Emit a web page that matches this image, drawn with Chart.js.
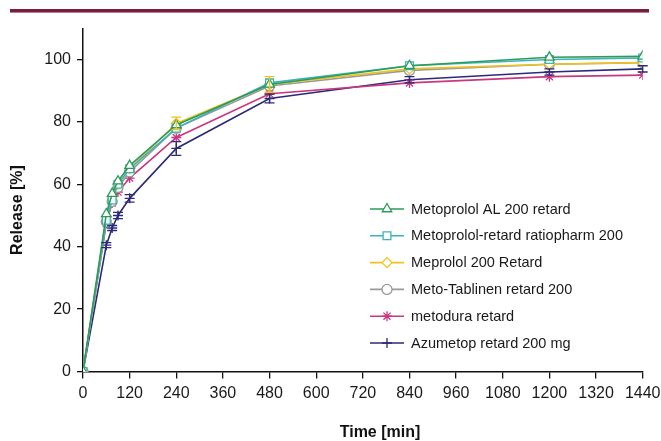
<!DOCTYPE html>
<html><head><meta charset="utf-8">
<script src="https://cdn.jsdelivr.net/npm/chart.js@4.4.0/dist/chart.umd.min.js"></script>
<style>
html,body{margin:0;padding:0;background:#fff;}
#wrap{position:relative;width:661px;height:441px;overflow:hidden;}
#rule{position:absolute;left:10px;top:9px;width:639px;height:3px;background:#7a1c3d;border-bottom:1px solid #b97d95;}
canvas{position:absolute;left:0;top:0;}
</style></head><body>
<div id="wrap"><canvas id="c" width="661" height="441"></canvas><div id="rule"></div></div>
<script>
// ---- data ----
const times = [0, 60, 75, 90, 120, 240, 480, 840, 1200, 1440];
const seriesNames = ["Metoprolol AL 200 retard", "Metoprolol-retard ratiopharm 200", "Meprolol 200 Retard", "Meto-Tablinen retard 200", "metodura retard", "Azumetop retard 200 mg"];
const metoprololAL   = [0, 50.5, 57.0, 61.0, 66.0, 79.0, 92.0, 98.0, 100.7, 101.0];
const ratiopharm     = [0, 48.5, 55.0, 60.0, 65.0, 78.0, 92.5, 98.0, 100.0, 100.5];
const meprolol       = [0, 49.5, 56.0, 60.0, 65.0, 79.5, 92.0, 97.0, 98.5, 99.0];
const metoTablinen   = [0, 48.0, 54.5, 59.0, 64.0, 78.0, 91.5, 96.5, 98.5, 99.0];
const metodura       = [0, 47.5, 54.0, 57.5, 62.0, 75.0, 89.0, 92.5, 94.5, 95.0];
const azumetop       = [0, 40.5, 46.0, 50.0, 55.5, 71.5, 87.5, 93.5, 96.0, 97.0];
const errMeprolol    = [0, 0, 0, 0, 0, 2.0, 2.5, 0, 0, 0];
const errAzumetop    = [0, 0.8, 0.8, 1.0, 1.2, 2.2, 1.4, 1.0, 1.0, 1.0];
const yTicksMax = 100, yMax = 110, yStep = 20;
const xMax = 1440, xStep = 120;

const seriesValues = [metoprololAL, ratiopharm, meprolol, metoTablinen, metodura, azumetop];
const seriesErrors = [null, null, errMeprolol, null, null, errAzumetop];
const colors = ["#2e9b5a", "#3bb3b8", "#f0c21c", "#9a9a9a", "#c8377f", "#2b2a78"];
const styles = ["triangle", "rect", "rectRot", "circle", "star", "cross"];
const radii  = [5.5, 5.5, 5, 5, 5, 5];

const FONT = "'Liberation Sans', Arial, Helvetica, sans-serif";

const datasets = seriesValues.map((vals, i) => ({
  label: seriesNames[i],
  data: times.map((t, j) => ({x: t, y: vals[j]})),
  borderColor: colors[i],
  backgroundColor: "#ffffff",
  pointBackgroundColor: "#ffffff",
  pointBorderColor: colors[i],
  pointStyle: styles[i],
  pointRadius: radii[i],
  pointHoverRadius: radii[i],
  pointBorderWidth: 1.3,
  borderWidth: 1.6,
  tension: 0,
  fill: false
}));

function drawMarker(ctx, style, r, x, y, color) {
  ctx.save();
  ctx.strokeStyle = color; ctx.fillStyle = "#fff"; ctx.lineWidth = 1.3;
  if (Chart.helpers && Chart.helpers.drawPoint) {
    Chart.helpers.drawPoint(ctx, {pointStyle: style, radius: r, borderWidth: 1.3, rotation: 0}, x, y);
  } else {
    ctx.beginPath(); ctx.arc(x, y, r, 0, Math.PI * 2); ctx.fill(); ctx.stroke();
  }
  ctx.restore();
}

const extras = {
  id: "extras",
  afterDatasetsDraw(chart) {
    const ctx = chart.ctx, xs = chart.scales.x, ys = chart.scales.y;
    chart.data.datasets.forEach((ds, i) => {
      const err = seriesErrors[i];
      if (!err) return;
      ctx.save();
      ctx.strokeStyle = colors[i]; ctx.lineWidth = 1.3;
      ds.data.forEach((p, j) => {
        const e = err[j];
        if (!e) return;
        const x = xs.getPixelForValue(p.x);
        const y1 = ys.getPixelForValue(p.y + e), y2 = ys.getPixelForValue(p.y - e);
        ctx.beginPath();
        ctx.moveTo(x, y1); ctx.lineTo(x, y2);
        ctx.moveTo(x - 5, y1); ctx.lineTo(x + 5, y1);
        ctx.moveTo(x - 5, y2); ctx.lineTo(x + 5, y2);
        ctx.stroke();
      });
      ctx.restore();
    });
  },
  afterDraw(chart) {
    const ctx = chart.ctx;
    // legend
    const rowY0 = 209, rowGap = 26.8;
    ctx.save();
    seriesNames.forEach((name, i) => {
      const y = rowY0 + i * rowGap;
      ctx.strokeStyle = colors[i]; ctx.lineWidth = 1.6;
      ctx.beginPath(); ctx.moveTo(370, y); ctx.lineTo(404, y); ctx.stroke();
      drawMarker(ctx, styles[i], radii[i], 387, y, colors[i]);
      ctx.fillStyle = "#1a1a1a";
      ctx.font = "14.5px " + FONT;
      ctx.textBaseline = "middle"; ctx.textAlign = "left";
      ctx.fillText(name, 411, y + 0.5);
    });
    // axis titles
    ctx.fillStyle = "#111";
    ctx.font = "bold 16px " + FONT;
    ctx.textAlign = "center"; ctx.textBaseline = "middle";
    ctx.fillText("Time [min]", 380, 433);
    ctx.translate(18, 210); ctx.rotate(-Math.PI / 2);
    ctx.fillText("Release [%]", 0, 0);
    ctx.restore();
  }
};

new Chart(document.getElementById("c"), {
  type: "line",
  data: {datasets},
  plugins: [extras],
  options: {
    responsive: false,
    animation: false,
    devicePixelRatio: 1,
    layout: {padding: {left: 0, top: 28.3, right: 18.3, bottom: 0}},
    plugins: {legend: {display: false}, tooltip: {enabled: false}, title: {display: false}},
    scales: {
      x: {
        type: "linear", min: 0, max: xMax,
        ticks: {stepSize: xStep, color: "#1a1a1a", font: {family: FONT, size: 16}, padding: 5, maxRotation: 0, autoSkip: false,
                callback: v => String(v)},
        grid: {display: true, drawOnChartArea: false, drawTicks: true, tickLength: 7, color: "#111", lineWidth: 1.3},
        border: {display: true, color: "#111", width: 1.5},
        afterFit(scale) { scale.height = 69.5; scale.paddingRight = 0; scale.paddingLeft = 0; }
      },
      y: {
        type: "linear", min: 0, max: yMax,
        ticks: {stepSize: yStep, includeBounds: false, color: "#1a1a1a", font: {family: FONT, size: 16}, padding: 6,
                callback: v => (v <= yTicksMax ? String(v) : "")},
        grid: {display: true, drawOnChartArea: false, drawTicks: true, tickLength: 6, color: "#111", lineWidth: 1.3},
        border: {display: true, color: "#111", width: 1.5},
        afterFit(scale) { scale.width = 83; scale.paddingTop = 0; scale.paddingBottom = 0; }
      }
    }
  }
});
</script>
</body></html>
